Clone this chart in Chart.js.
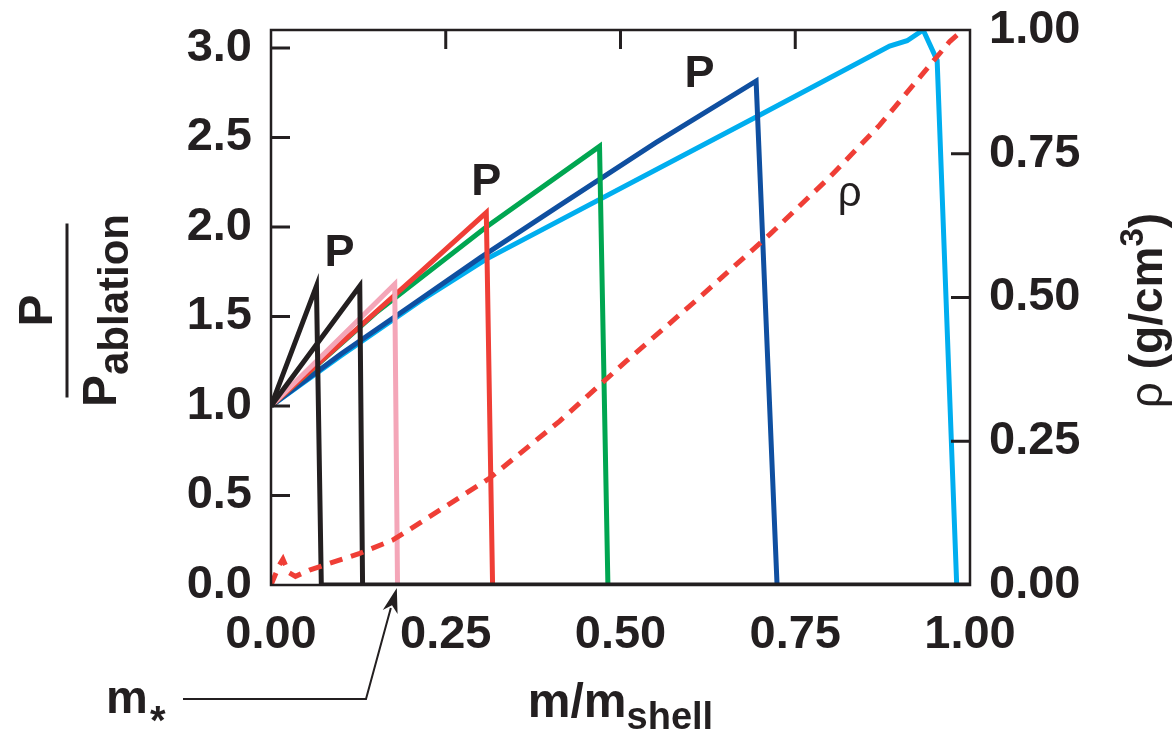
<!DOCTYPE html>
<html>
<head>
<meta charset="utf-8">
<script src="https://cdn.jsdelivr.net/npm/chart.js@4.4.0/dist/chart.umd.min.js"></script>
<style>
  html, body { margin: 0; padding: 0; background: #fff; }
  #wrap { width: 1175px; height: 734px; }
</style>
</head>
<body>
<div id="wrap"><canvas id="shellChart" width="1175" height="734"></canvas></div>
<script>
// Tick values and labels
const xTicks = [0, 0.25, 0.5, 0.75, 1];
const xTickLabels = ['0.00', '0.25', '0.50', '0.75', '1.00'];
const pTicks = [0, 0.5, 1, 1.5, 2, 2.5, 3];
const pTickLabels = ['0.0', '0.5', '1.0', '1.5', '2.0', '2.5', '3.0'];
const rhoTicks = [0, 0.25, 0.5, 0.75, 0.965];
const rhoTickLabels = ['0.00', '0.25', '0.50', '0.75', '1.00'];

// Pressure profiles, P/P_ablation vs m/m_shell
const black1M = [0, 0.065, 0.072, 1.0];
const black1P = [1.0, 1.67, 0, 0];
const black2M = [0, 0.127, 0.131];
const black2P = [1.0, 1.67, 0];
const pinkM = [0, 0.177, 0.181];
const pinkP = [1.0, 1.68, 0];
const redM = [0, 0.213, 0.308, 0.317];
const redP = [1.0, 1.745, 2.08, 0];
const greenM = [0, 0.15, 0.308, 0.47, 0.482];
const greenP = [1.0, 1.52, 2.0, 2.45, 0];
const blueM = [0, 0.1, 0.2, 0.3, 0.413, 0.55, 0.694, 0.724];
const blueP = [1.0, 1.29, 1.56, 1.83, 2.12, 2.47, 2.815, 0];
const cyanM = [0, 0.1, 0.213, 0.308, 0.692, 0.885, 0.91, 0.933, 0.953, 0.981];
const cyanP = [1.0, 1.28, 1.585, 1.82, 2.61, 3.01, 3.04, 3.1, 2.93, 0];

// Density profile (right axis, g/cm3)
const rhoM = [0, 0.012, 0.017, 0.025, 0.035, 0.055, 0.127, 0.174, 0.213, 0.313, 0.413, 0.509, 0.613, 0.714, 0.8, 0.871, 0.971, 0.99];
const rhoV = [0, 0.035, 0.045, 0.022, 0.015, 0.026, 0.055, 0.078, 0.108, 0.186, 0.285, 0.39, 0.50, 0.61, 0.71, 0.80, 0.945, 0.965];

// Annotation anchors in data units
const pLabels = [[0.098, 1.85], [0.308, 2.25], [0.613, 2.85]];
const rhoLabel = [0.828, 2.18];
const mStar = 0.18;

const INK = '#231f20';
const FONT = '"Liberation Sans", Arial, Helvetica, sans-serif';

function pts(m, v) {
    return m.map((x, i) => ({ x: x, y: v[i] }));
}

function line(data, color, extra) {
    return Object.assign({
        data: data,
        borderColor: color,
        borderWidth: 5,
        pointRadius: 0,
        tension: 0,
        fill: false,
        yAxisID: 'y',
        borderJoinStyle: 'miter'
    }, extra || {});
}

// Frame, inward ticks, labels and titles
const decorations = {
    id: 'decorations',
    afterDatasetsDraw(chart) {
        const ctx = chart.ctx;
        const a = chart.chartArea;
        const sx = chart.scales.x, sy = chart.scales.y, sr = chart.scales.y2;
        ctx.save();
        ctx.strokeStyle = INK;
        ctx.fillStyle = INK;
        ctx.lineWidth = 2.5;
        ctx.strokeRect(a.left, a.top, a.right - a.left, a.bottom - a.top);

        ctx.lineWidth = 3;
        ctx.beginPath();
        pTicks.slice(1).forEach(v => {
            const y = sy.getPixelForValue(v);
            ctx.moveTo(a.left, y); ctx.lineTo(a.left + 19, y);
        });
        rhoTicks.slice(1, 4).forEach(v => {
            const y = sr.getPixelForValue(v);
            ctx.moveTo(a.right, y); ctx.lineTo(a.right - 19, y);
        });
        xTicks.slice(1, 4).forEach(v => {
            const x = sx.getPixelForValue(v);
            ctx.moveTo(x, a.top); ctx.lineTo(x, a.top + 19);
        });
        ctx.stroke();

        // P markers
        ctx.textAlign = 'center';
        ctx.textBaseline = 'middle';
        ctx.font = 'bold 45px ' + FONT;
        pLabels.forEach(p => {
            ctx.fillText('P', sx.getPixelForValue(p[0]), sy.getPixelForValue(p[1]));
        });
        ctx.font = '42px ' + FONT;
        ctx.fillText('ρ', sx.getPixelForValue(rhoLabel[0]), sy.getPixelForValue(rhoLabel[1]));

        // x title m/m_shell
        ctx.textBaseline = 'alphabetic';
        ctx.textAlign = 'left';
        ctx.font = 'bold 48px ' + FONT;
        const w1 = ctx.measureText('m/m').width;
        ctx.font = 'bold 38px ' + FONT;
        const w2 = ctx.measureText('shell').width;
        let x0 = (a.left + a.right) / 2 - (w1 + w2) / 2;
        ctx.font = 'bold 48px ' + FONT;
        ctx.fillText('m/m', x0, 717);
        ctx.font = 'bold 38px ' + FONT;
        ctx.fillText('shell', x0 + w1, 729);

        // m* with arrow
        ctx.font = 'bold 47px ' + FONT;
        ctx.fillText('m', 106, 713);
        ctx.font = 'bold 40px ' + FONT;
        ctx.fillText('*', 150, 734);
        const tipX = sx.getPixelForValue(mStar);
        const tipY = a.bottom + 3;
        ctx.lineWidth = 2;
        ctx.beginPath();
        ctx.moveTo(183, 699); ctx.lineTo(366, 699); ctx.lineTo(tipX - 6, tipY + 20);
        ctx.stroke();
        const ang = Math.atan2(tipY - 699, tipX - 366);
        ctx.beginPath();
        ctx.moveTo(tipX, tipY);
        ctx.lineTo(tipX - 26 * Math.cos(ang - 0.3), tipY - 26 * Math.sin(ang - 0.3));
        ctx.lineTo(tipX - 18 * Math.cos(ang), tipY - 18 * Math.sin(ang));
        ctx.lineTo(tipX - 26 * Math.cos(ang + 0.3), tipY - 26 * Math.sin(ang + 0.3));
        ctx.closePath();
        ctx.fill();

        // left title P / P_ablation
        const cy = (a.top + a.bottom) / 2 + 3;
        ctx.save();
        ctx.translate(52, cy);
        ctx.rotate(-Math.PI / 2);
        ctx.textAlign = 'center';
        ctx.font = 'bold 48px ' + FONT;
        ctx.fillText('P', 0, 0);
        ctx.restore();
        ctx.lineWidth = 3;
        ctx.beginPath();
        ctx.moveTo(67, cy - 87); ctx.lineTo(67, cy + 87);
        ctx.stroke();
        ctx.save();
        ctx.translate(116, cy);
        ctx.rotate(-Math.PI / 2);
        ctx.textAlign = 'left';
        ctx.font = 'bold 48px ' + FONT;
        const wp = ctx.measureText('P').width;
        ctx.font = 'bold 42px ' + FONT;
        const wa = ctx.measureText('ablation').width;
        ctx.font = 'bold 48px ' + FONT;
        ctx.fillText('P', -(wp + wa) / 2, 0);
        ctx.font = 'bold 42px ' + FONT;
        ctx.fillText('ablation', -(wp + wa) / 2 + wp, 12);
        ctx.restore();

        // right title rho (g/cm3)
        ctx.save();
        ctx.translate(1162, cy);
        ctx.rotate(-Math.PI / 2);
        ctx.textAlign = 'left';
        const parts = [
            ['ρ ', '46px ' + FONT, 0],
            ['(g/cm', 'bold 46px ' + FONT, 0],
            ['3', 'bold 33px ' + FONT, -19],
            [')', 'bold 46px ' + FONT, 0]
        ];
        let total = 0;
        parts.forEach(p => { ctx.font = p[1]; total += ctx.measureText(p[0]).width; });
        let px = -total / 2;
        parts.forEach(p => {
            ctx.font = p[1];
            ctx.fillText(p[0], px, p[2]);
            px += ctx.measureText(p[0]).width;
        });
        ctx.restore();

        ctx.restore();
    }
};

function tickFont(lh) {
    return { family: FONT, size: 47, weight: 'bold', lineHeight: lh };
}

function renderChart() {
    const ctx = document.getElementById('shellChart').getContext('2d');
    new Chart(ctx, {
        type: 'line',
        data: {
            datasets: [
                line(pts(rhoM, rhoV), '#ef3e36', { yAxisID: 'y2', borderDash: [13, 9] }),
                line(pts(black1M, black1P), INK),
                line(pts(black2M, black2P), INK),
                line(pts(pinkM, pinkP), '#f4a6b8'),
                line(pts(redM, redP), '#ef3e36'),
                line(pts(greenM, greenP), '#00a651'),
                line(pts(blueM, blueP), '#0f4fa0'),
                line(pts(cyanM, cyanP), '#00aeef')
            ]
        },
        options: {
            responsive: false,
            animation: false,
            devicePixelRatio: 1,
            layout: { padding: { top: 30, left: 0, right: 0, bottom: 0 } },
            plugins: { legend: { display: false }, tooltip: { enabled: false } },
            scales: {
                x: {
                    type: 'linear',
                    min: 0,
                    max: 1,
                    afterBuildTicks: s => { s.ticks = xTicks.map(v => ({ value: v })); },
                    afterFit: s => { s.height = 149; },
                    grid: { display: false, drawTicks: false },
                    border: { display: false },
                    ticks: {
                        autoSkip: false,
                        maxRotation: 0,
                        padding: 22,
                        color: INK,
                        font: tickFont(1.2),
                        callback: (v, i) => xTickLabels[i]
                    }
                },
                y: {
                    position: 'left',
                    min: 0,
                    max: 3.1,
                    afterBuildTicks: s => { s.ticks = pTicks.map(v => ({ value: v })); },
                    afterFit: s => { s.width = 271; },
                    grid: { display: false, drawTicks: false },
                    border: { display: false },
                    ticks: {
                        autoSkip: false,
                        padding: 19,
                        color: INK,
                        font: tickFont(0.4),
                        callback: (v, i) => pTickLabels[i]
                    }
                },
                y2: {
                    position: 'right',
                    min: 0,
                    max: 0.965,
                    afterBuildTicks: s => { s.ticks = rhoTicks.map(v => ({ value: v })); },
                    afterFit: s => { s.width = 205; },
                    grid: { display: false, drawTicks: false },
                    border: { display: false },
                    ticks: {
                        autoSkip: false,
                        padding: 19,
                        color: INK,
                        font: tickFont(0.4),
                        callback: (v, i) => rhoTickLabels[i]
                    }
                }
            }
        },
        plugins: [decorations]
    });
}

document.addEventListener('DOMContentLoaded', renderChart);
</script>
</body>
</html>
